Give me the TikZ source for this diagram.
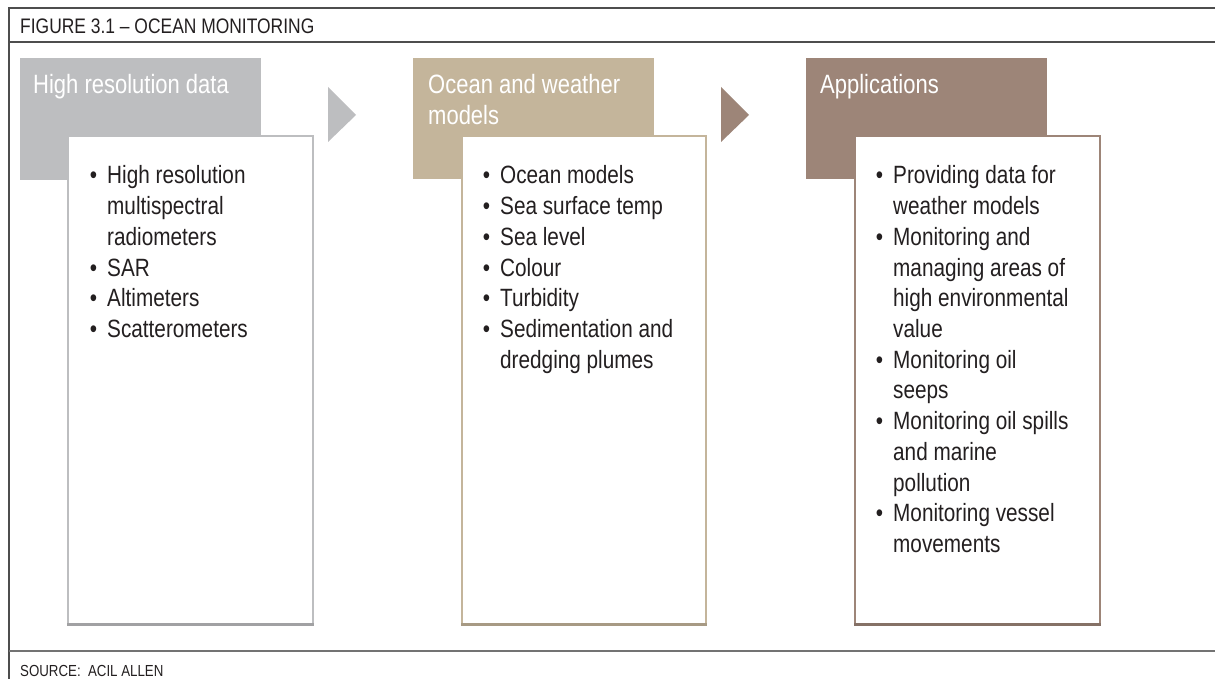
\documentclass[tikz,border=0pt]{standalone}
\usepackage{fontspec}
\setmainfont[FakeStretch=0.83]{Liberation Sans}
\definecolor{cgray}{HTML}{BDBEC0}
\definecolor{ctan}{HTML}{C4B59B}
\definecolor{cbrown}{HTML}{9D8578}
\definecolor{ctext}{HTML}{231F20}
\definecolor{cframe}{HTML}{4D4D4D}
\newcommand{\bul}{\llap{\textbullet\hspace{10pt}}}
\tikzset{
  frameline/.style={draw=cframe, line width=1.3pt},
  headbox/.style={fill=#1, draw=none},
  listbox/.style={fill=white, draw=#1, line width=2pt},
  listline/.style={anchor=base west, inner sep=0pt, text=ctext, font=\fontsize{25}{28}\selectfont},
  headline/.style={anchor=base west, inner sep=0pt, text=white, font=\fontsize{26.5}{28}\selectfont},
  smalltext/.style={anchor=base west, inner sep=0pt, text=ctext},
  flowarrow/.style={fill=#1, draw=none},
}
\begin{document}
\begin{tikzpicture}[x=1pt,y=-1pt]
\useasboundingbox (0,0) rectangle (1215,679);
% frame
\coordinate (ftl) at (9,8);
\coordinate (ftr) at (1215,8);
\coordinate (fbl) at (9,679);
\coordinate (h1) at (9,42);
\coordinate (h2) at (1215,42);
\coordinate (s1) at (9,651);
\coordinate (s2) at (1215,651);
\draw[frameline] (fbl) -- (ftl) -- (ftr);
\draw[frameline] (h1) -- (h2);
\draw[draw=gray!90!black, line width=1.8pt] (s1) -- (s2);
\node[smalltext, font=\fontsize{21}{24}\selectfont] (title) at (20,34) {FIGURE 3.1 – OCEAN MONITORING};
\node[smalltext, font=\fontsize{16}{18}\selectfont] (source) at (20,676) {SOURCE:\ \ ACIL ALLEN};

% header boxes
\fill[headbox=cgray] (20,58) rectangle (261,180);
\fill[headbox=ctan] (413,58) rectangle (654,179);
\fill[headbox=cbrown] (806,58) rectangle (1047,179);

% arrows
\coordinate (a1a) at (328,87); \coordinate (a1b) at (356,115); \coordinate (a1c) at (328,142);
\coordinate (a2a) at (721,87); \coordinate (a2b) at (749,115); \coordinate (a2c) at (721,142);
\fill[flowarrow=cgray] (a1a) -- (a1b) -- (a1c) -- cycle;
\fill[flowarrow=cbrown] (a2a) -- (a2b) -- (a2c) -- cycle;

% list boxes
\draw[listbox=cgray] (68,136) rectangle (313,624);
\draw[listbox=ctan] (462,136) rectangle (706,624);
\draw[listbox=cbrown] (855,136) rectangle (1100,624);
\draw[cgray!85!black, line width=2.6pt] (67,624.5) -- (314,624.5);
\draw[ctan!85!black, line width=2.6pt] (461,624.5) -- (707,624.5);
\draw[cbrown!85!black, line width=2.6pt] (854,624.5) -- (1101,624.5);

% headings
\node[headline] (hd1) at (33,94) {High resolution data};
\node[headline] (hd2a) at (428,94) {Ocean and weather};
\node[headline] (hd2b) at (428,125) {models};
\node[headline] (hd3) at (820,94) {Applications};

% lists
\foreach \t [count=\i] in {{\bul High resolution},{multispectral},{radiometers},{\bul SAR},{\bul Altimeters},{\bul Scatterometers}}
  \node[listline] (la\i) at (107,{184+30.7*(\i-1)}) {\t};
\foreach \t [count=\i] in {{\bul Ocean models},{\bul Sea surface temp},{\bul Sea level},{\bul Colour},{\bul Turbidity},{\bul Sedimentation and},{dredging plumes}}
  \node[listline] (lb\i) at (500,{184+30.7*(\i-1)}) {\t};
\foreach \t [count=\i] in {{\bul Providing data for},{weather models},{\bul Monitoring and},{managing areas of},{high environmental},{value},{\bul Monitoring oil},{seeps},{\bul Monitoring oil spills},{and marine},{pollution},{\bul Monitoring vessel},{movements}}
  \node[listline] (lc\i) at (893,{184+30.7*(\i-1)}) {\t};
\end{tikzpicture}
\end{document}
